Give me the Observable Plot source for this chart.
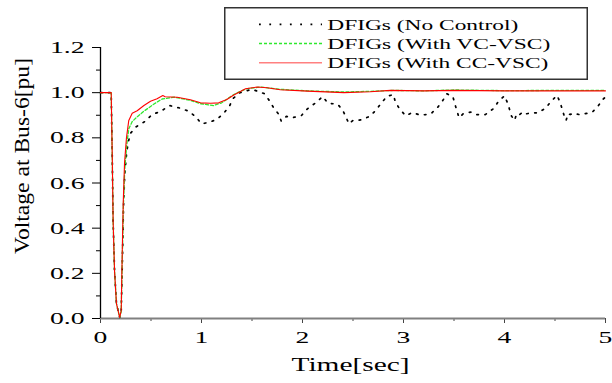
<!DOCTYPE html>
<html><head><meta charset="utf-8">
<script src="https://cdn.jsdelivr.net/npm/d3@7"></script>
<script src="https://cdn.jsdelivr.net/npm/@observablehq/plot@0.6"></script>
<style>
html,body{margin:0;padding:0;background:#fff;}
#chart{position:relative;width:612px;height:383px;font-family:"Liberation Serif","Times New Roman",serif;}
#legend{position:absolute;left:224px;top:7px;}
</style></head><body><div id="chart"></div>
<script>
// ---- data ----
const seriesNames = ["DFIGs (No Control)", "DFIGs (With VC-VSC)", "DFIGs (With CC-VSC)"];
const xTitle = "Time[sec]";
const yTitle = "Voltage at Bus-6[pu]";
const xTicks = [0, 1, 2, 3, 4, 5];
const xMinorTicks = [0.5, 1.5, 2.5, 3.5, 4.5];
const yTicks = [0, 0.2, 0.4, 0.6, 0.8, 1.0, 1.2];
const yMinorTicks = [0.1, 0.3, 0.5, 0.7, 0.9, 1.1];

const noControlT = [0, 0.1, 0.106, 0.116, 0.125, 0.139, 0.158, 0.19, 0.205, 0.218, 0.228, 0.24, 0.26, 0.28, 0.297, 0.347, 0.446, 0.51, 0.6, 0.683, 0.775, 0.875, 0.95, 1.0, 1.08, 1.16, 1.23, 1.28, 1.31, 1.38, 1.5, 1.62, 1.67, 1.71, 1.76, 1.79, 1.84, 1.9, 1.99, 2.05, 2.13, 2.2, 2.25, 2.35, 2.4, 2.43, 2.46, 2.5, 2.54, 2.59, 2.67, 2.73, 2.78, 2.84, 2.9, 2.92, 2.96, 3.02, 3.09, 3.17, 3.27, 3.34, 3.39, 3.43, 3.49, 3.51, 3.53, 3.55, 3.59, 3.63, 3.67, 3.72, 3.81, 3.89, 3.94, 4.0, 4.03, 4.05, 4.07, 4.1, 4.12, 4.15, 4.18, 4.21, 4.25, 4.33, 4.41, 4.46, 4.52, 4.55, 4.57, 4.59, 4.61, 4.63, 4.65, 4.68, 4.71, 4.74, 4.79, 4.87, 4.93, 4.98, 5.0];
const noControlV = [1.0, 1.0, 1.0, 0.73, 0.43, 0.21, 0.066, 0.005, 0.03, 0.28, 0.5, 0.64, 0.74, 0.79, 0.82, 0.847, 0.874, 0.903, 0.918, 0.943, 0.933, 0.918, 0.89, 0.862, 0.869, 0.884, 0.914, 0.943, 0.973, 1.0, 1.015, 0.996, 0.966, 0.936, 0.907, 0.874, 0.895, 0.889, 0.899, 0.929, 0.955, 0.983, 0.954, 0.948, 0.921, 0.892, 0.862, 0.877, 0.877, 0.881, 0.896, 0.924, 0.954, 0.985, 0.991, 0.958, 0.929, 0.898, 0.912, 0.9, 0.906, 0.936, 0.966, 0.995, 0.981, 0.948, 0.918, 0.889, 0.906, 0.911, 0.914, 0.903, 0.903, 0.929, 0.961, 0.986, 0.955, 0.926, 0.896, 0.877, 0.907, 0.903, 0.914, 0.906, 0.909, 0.911, 0.932, 0.961, 0.988, 0.958, 0.929, 0.899, 0.877, 0.907, 0.903, 0.909, 0.906, 0.903, 0.906, 0.914, 0.943, 0.973, 0.98];

const vcT = [0, 0.1, 0.106, 0.116, 0.125, 0.139, 0.158, 0.19, 0.205, 0.216, 0.226, 0.24, 0.26, 0.28, 0.314, 0.363, 0.43, 0.53, 0.61, 0.73, 0.89, 0.99, 1.12, 1.2, 1.32, 1.44, 1.58, 1.78, 2.05, 2.41, 2.67, 2.9, 3.2, 3.5, 4.0, 4.5, 5.0];
const vcV = [1.0, 1.0, 1.0, 0.73, 0.43, 0.21, 0.066, 0.005, 0.03, 0.27, 0.49, 0.66, 0.77, 0.84, 0.872, 0.893, 0.918, 0.95, 0.972, 0.98, 0.966, 0.951, 0.943, 0.955, 0.992, 1.017, 1.025, 1.015, 1.008, 1.003, 1.006, 1.01, 1.008, 1.012, 1.009, 1.01, 1.01];

const ccT = [0, 0.1, 0.106, 0.116, 0.125, 0.139, 0.158, 0.19, 0.205, 0.215, 0.225, 0.238, 0.257, 0.28, 0.314, 0.363, 0.43, 0.495, 0.56, 0.617, 0.64, 0.76, 0.89, 0.99, 1.09, 1.17, 1.25, 1.32, 1.436, 1.55, 1.65, 1.78, 2.05, 2.41, 2.67, 2.87, 3.2, 3.5, 4.0, 4.5, 5.0];
const ccV = [1.0, 1.0, 1.0, 0.73, 0.43, 0.21, 0.066, 0.005, 0.035, 0.29, 0.51, 0.69, 0.8, 0.877, 0.909, 0.92, 0.943, 0.962, 0.973, 0.987, 0.982, 0.98, 0.969, 0.955, 0.953, 0.955, 0.97, 0.99, 1.017, 1.025, 1.022, 1.013, 1.007, 1.0, 1.004, 1.01, 1.008, 1.01, 1.008, 1.008, 1.008];

const seriesColors = ["#000000", "#2ee82e", "#ff0000"];
const seriesDash = ["1.6,6.5", "3,2", null];
const seriesWidth = [1.7, 1.3, 1.1];

// ---- build ----
const rows = (T, V) => T.map((t, i) => ({t, v: V[i]}));
const data = [rows(noControlT, noControlV), rows(vcT, vcV), rows(ccT, ccV)];
const FONT = "'Liberation Serif','Times New Roman',serif";

const plot = Plot.plot({
  width: 612, height: 383,
  marginLeft: 100, marginRight: 7, marginTop: 47, marginBottom: 65,
  style: {fontFamily: FONT, fontSize: "17.5px", color: "#000", background: "#fff", overflow: "visible"},
  x: {domain: [0, 5]},
  y: {domain: [0, 1.2]},
  marks: [
    Plot.axisX(xMinorTicks, {tickSize: 3, tickFormat: () => "", label: null, stroke: "#444"}),
    Plot.axisX(xTicks, {tickSize: 5, tickPadding: 7, tickFormat: d => String(d), label: null, stroke: "#444"}),
    Plot.axisY(yMinorTicks, {tickSize: 4, tickFormat: () => "", label: null}),
    Plot.axisY(yTicks, {tickSize: 8, tickPadding: 8, tickFormat: d3.format(".1f"), label: null}),
    Plot.ruleY([0], {stroke: "#808080", strokeWidth: 2.2}),
    Plot.ruleX([0], {stroke: "#000", strokeWidth: 1.3}),
    ...data.map((d, i) => Plot.line(d, {
      x: "t", y: "v", stroke: seriesColors[i], strokeWidth: seriesWidth[i],
      strokeDasharray: seriesDash[i] ?? undefined
    }))
  ]
});

const chart = document.getElementById("chart");
chart.appendChild(plot);

// stretch tick labels horizontally like the reference
d3.select(plot).selectAll("text").each(function () {
  const w = this.getComputedTextLength();
  if (w > 0) {
    this.setAttribute("textLength", (w * 1.58).toFixed(1));
    this.setAttribute("lengthAdjust", "spacingAndGlyphs");
  }
});

const xs = plot.scale("x");
const svg = d3.select(plot);
svg.append("text")
  .attr("x", (xs.apply(xs.domain[0]) + xs.apply(xs.domain[1])) / 2 - 2)
  .attr("y", 371)
  .attr("text-anchor", "middle")
  .attr("font-size", 19)
  .attr("font-family", FONT)
  .attr("fill", "#000")
  .attr("textLength", 118).attr("lengthAdjust", "spacingAndGlyphs")
  .text(xTitle);
svg.append("text")
  .attr("transform", `translate(29,${156}) rotate(-90)`)
  .attr("text-anchor", "middle")
  .attr("font-size", 20)
  .attr("font-family", FONT)
  .attr("fill", "#000")
  .attr("textLength", 196).attr("lengthAdjust", "spacingAndGlyphs")
  .text(yTitle);

// legend box
const legendW = 364, legendH = 73;
const lg = d3.select(chart).append("svg").attr("id", "legend")
  .attr("width", legendW).attr("height", legendH);
lg.append("rect").attr("x", 0.75).attr("y", 0.75)
  .attr("width", legendW - 1.5).attr("height", legendH - 1.5)
  .attr("fill", "#fff").attr("stroke", "#333").attr("stroke-width", 1.5);
const legendTextLen = [191, 223, 221];
seriesNames.forEach((name, i) => {
  const cy = 17.3 + i * 19.2;
  lg.append("line").attr("x1", 35).attr("x2", 98).attr("y1", cy).attr("y2", cy)
    .attr("stroke", i === 2 ? "#ff8080" : seriesColors[i])
    .attr("stroke-width", i === 0 ? 1.8 : (i === 2 ? 1.6 : 1.3))
    .attr("stroke-dasharray", i === 0 ? "1.8,8.5" : (seriesDash[i] || null));
  lg.append("text").attr("x", 103.3).attr("y", cy + 5.7)
    .attr("font-size", 15).attr("font-family", FONT).attr("fill", "#000")
    .attr("textLength", legendTextLen[i]).attr("lengthAdjust", "spacingAndGlyphs")
    .text(name);
});
</script></body></html>
